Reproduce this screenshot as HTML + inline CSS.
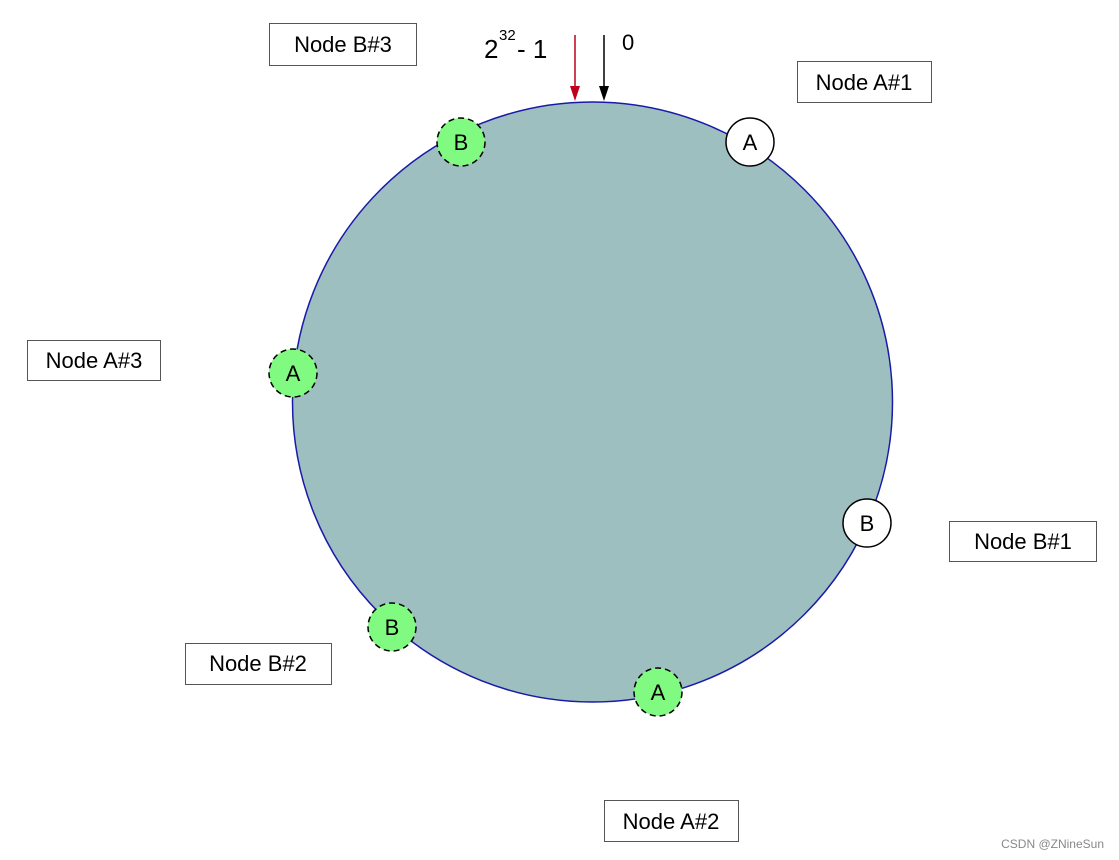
<!DOCTYPE html>
<html><head><style>
body{margin:0;background:#fff;}
svg{display:block;font-family:"Liberation Sans",Arial,sans-serif;}
</style></head><body>
<svg width="1119" height="860" viewBox="0 0 1119 860">
<circle cx="592.5" cy="402" r="300" fill="#9dbfc0" stroke="#1a1aa8" stroke-width="1.5"/>
<g stroke="#555" stroke-width="1" fill="#fff">
<rect x="269.5" y="23.5" width="147" height="42"/>
<rect x="797.5" y="61.5" width="134" height="41"/>
<rect x="27.5" y="340.5" width="133" height="40"/>
<rect x="949.5" y="521.5" width="147" height="40"/>
<rect x="185.5" y="643.5" width="146" height="41"/>
<rect x="604.5" y="800.5" width="134" height="41"/>
</g>
<g font-size="22" fill="#000" text-anchor="middle">
<text x="343" y="52">Node B#3</text>
<text x="864" y="90">Node A#1</text>
<text x="94" y="368">Node A#3</text>
<text x="1023" y="549">Node B#1</text>
<text x="258" y="671">Node B#2</text>
<text x="671" y="829">Node A#2</text>
</g>
<text x="484" y="58" font-size="26">2</text>
<text x="499" y="40" font-size="15">32</text>
<text x="517" y="58" font-size="26">- 1</text>
<text x="622" y="50" font-size="22">0</text>
<line x1="575" y1="35" x2="575" y2="88" stroke="#c0001a" stroke-width="1.5"/>
<polygon points="570,86 580,86 575,101" fill="#c0001a"/>
<line x1="604" y1="35" x2="604" y2="88" stroke="#000" stroke-width="1.5"/>
<polygon points="599,86 609,86 604,101" fill="#000"/>
<g stroke="#000" stroke-width="1.5">
<circle cx="461" cy="142" r="24" fill="#80fa80" stroke-dasharray="6,4"/>
<circle cx="750" cy="142" r="24" fill="#fff"/>
<circle cx="293" cy="373" r="24" fill="#80fa80" stroke-dasharray="6,4"/>
<circle cx="867" cy="523" r="24" fill="#fff"/>
<circle cx="392" cy="627" r="24" fill="#80fa80" stroke-dasharray="6,4"/>
<circle cx="658" cy="692" r="24" fill="#80fa80" stroke-dasharray="6,4"/>
</g>
<g font-size="22" text-anchor="middle">
<text x="461" y="150">B</text>
<text x="750" y="150">A</text>
<text x="293" y="381">A</text>
<text x="867" y="531">B</text>
<text x="392" y="635">B</text>
<text x="658" y="700">A</text>
</g>
<text x="1104" y="848" font-size="12" fill="#888" text-anchor="end">CSDN @ZNineSun</text>
</svg>
</body></html>
